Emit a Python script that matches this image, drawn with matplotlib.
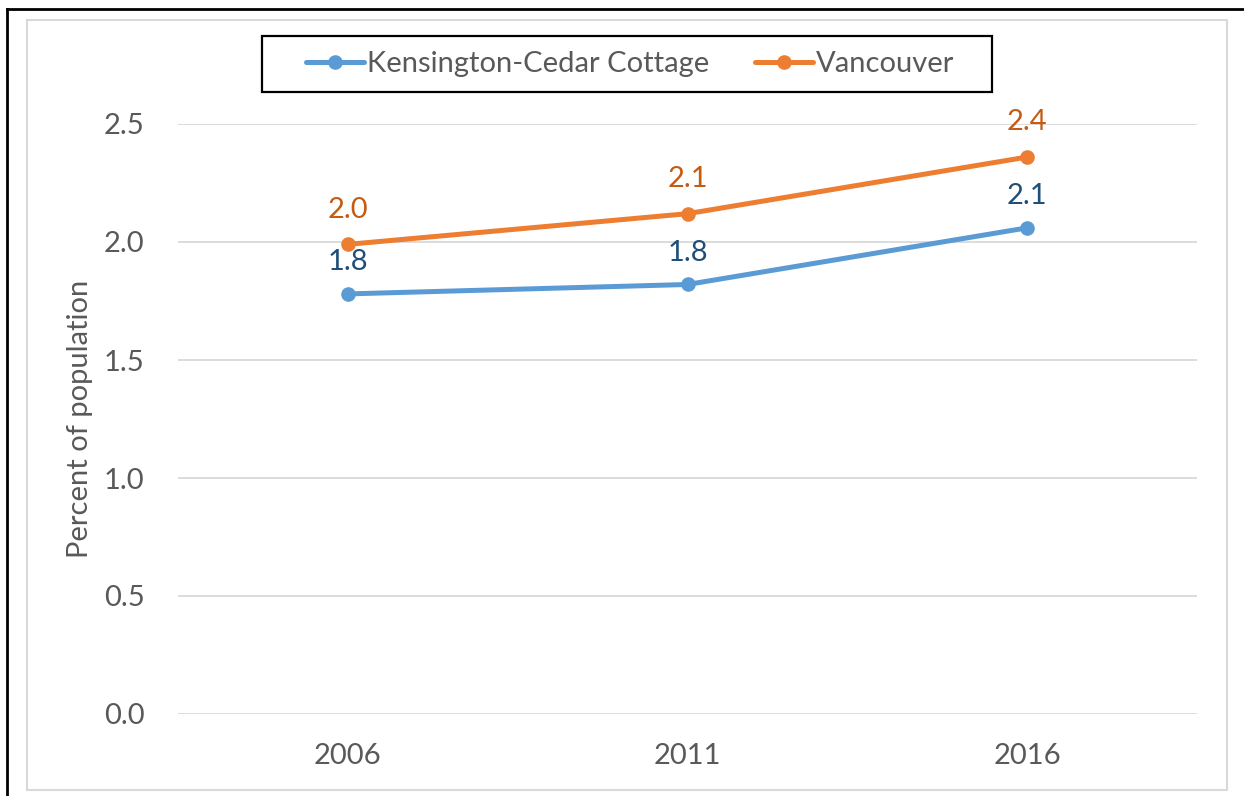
import matplotlib
matplotlib.use("Agg")
import matplotlib.pyplot as plt
from matplotlib.lines import Line2D
from matplotlib.patches import Rectangle

years = ["2006", "2011", "2016"]
kcc = [1.78, 1.82, 2.06]
van = [1.99, 2.12, 2.36]
kcc_labels = ["1.8", "1.8", "2.1"]
van_labels = ["2.0", "2.1", "2.4"]
yticks = [0.0, 0.5, 1.0, 1.5, 2.0, 2.5]

plt.rcParams['font.family'] = ['Lato', 'DejaVu Sans']

W, H = 1244, 796
fig = plt.figure(figsize=(W / 100, H / 100), dpi=100)
ax = fig.add_axes([178 / W, 1 - 714 / H, (1197 - 178) / W, (714 - 124) / H])

blue, orange = "#5B9BD5", "#ED7D31"
blue_d, orange_d = "#1F4E79", "#C55A11"
x = list(range(len(years)))
FS = 21

ax.plot(x, kcc, color=blue, lw=3.6, marker='o', ms=9.5, label="Kensington-Cedar Cottage",
        solid_capstyle='round', clip_on=False, zorder=3)
ax.plot(x, van, color=orange, lw=3.6, marker='o', ms=9.5, label="Vancouver",
        solid_capstyle='round', clip_on=False, zorder=3)

for xi, v, t in zip(x, kcc, kcc_labels):
    ax.annotate(t, (xi, v), xytext=(0, 23), textcoords='offset points',
                ha='center', va='center', fontsize=FS, color=blue_d)
for xi, v, t in zip(x, van, van_labels):
    ax.annotate(t, (xi, v), xytext=(0, 25), textcoords='offset points',
                ha='center', va='center', fontsize=FS, color=orange_d)

ax.set_xlim(-0.5, 2.5)
ax.set_ylim(0, 2.5)
ax.set_xticks(x)
ax.set_xticklabels(years)
ax.set_yticks(yticks)
ax.set_yticklabels([f"{v:.1f}" for v in yticks])
ax.tick_params(axis='both', length=0, labelsize=FS, labelcolor="#595959")
ax.tick_params(axis='x', pad=21)
ax.tick_params(axis='y', pad=24)
ax.grid(axis='y', color="#D9D9D9", lw=1.3)
ax.set_axisbelow(True)
for s in ax.spines.values():
    s.set_visible(False)
ax.set_ylabel("Percent of population", fontsize=FS, color="#595959", labelpad=8)

leg = ax.legend(loc='center', bbox_to_anchor=(630 / W, 1 - 64 / H),
                bbox_transform=fig.transFigure, ncol=2, fontsize=FS,
                frameon=False,
                handlelength=2.0, columnspacing=1.55, borderpad=0.45,
                handletextpad=0.1, borderaxespad=0)
for t in leg.get_texts():
    t.set_color("#595959")

# legend frame
fig.add_artist(Rectangle((262 / W, 1 - 92 / H), (992 - 262) / W, (92 - 36) / H,
                         transform=fig.transFigure, fill=False,
                         edgecolor="black", lw=1.6))
# chart area border (light gray)
fig.add_artist(Rectangle((27 / W, 1 - 790 / H), (1227 - 27) / W, (790 - 20) / H,
                         transform=fig.transFigure, fill=False,
                         edgecolor="#D9D9D9", lw=1.5))
# outer black border (top and left)
fig.add_artist(Line2D([7 / W, 1], [1 - 9 / H, 1 - 9 / H], transform=fig.transFigure,
                      color='black', lw=2))
fig.add_artist(Line2D([7 / W, 7 / W], [0, 1 - 9 / H], transform=fig.transFigure,
                      color='black', lw=2))

fig.savefig("out.png", dpi=100, facecolor='white')
